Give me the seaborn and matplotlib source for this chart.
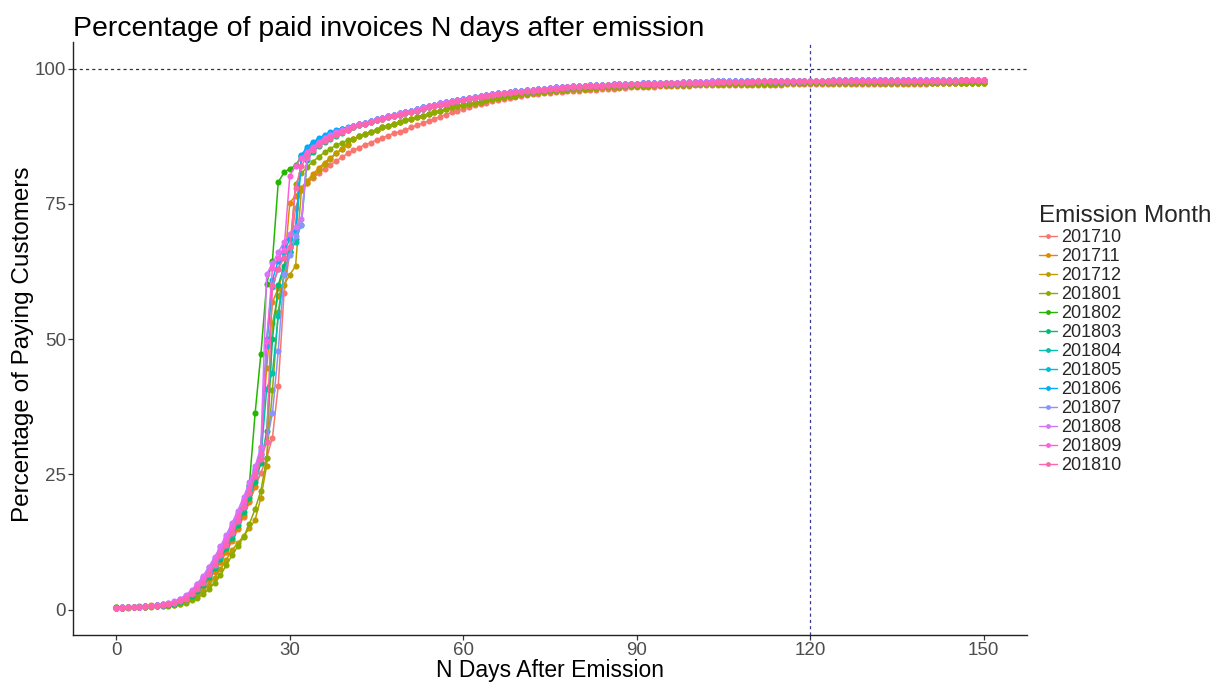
import matplotlib
matplotlib.use("Agg")
import matplotlib.pyplot as plt
import seaborn as sns
import pandas as pd
import numpy as np
from matplotlib.lines import Line2D

months = ["201710", "201711", "201712", "201801", "201802", "201803", "201804",
          "201805", "201806", "201807", "201808", "201809", "201810"]
colors = ["#F8766D", "#E18A00", "#BE9C00", "#8CAB00", "#24B700", "#00BE70", "#00C1AB",
          "#00BBDA", "#00ACFC", "#8B93FF", "#D575FE", "#F962DD", "#FF65AC"]
days = list(range(0, 151))

# Days 0-40 for each month
early_201710 = [0.3, 0.3, 0.4, 0.4, 0.5, 0.5, 0.6, 0.7, 0.8, 0.9, 1.0,
                1.3, 1.7, 2.3, 3.1, 4.2, 5.5, 7.0, 8.7, 10.6, 12.6,
                14.8, 17.2, 19.8, 22.6, 25.3, 28.0, 31.8, 41.4, 58.5, 66.0,
                74.2, 77.5, 78.9, 79.8, 80.7, 81.5, 82.2, 82.9, 83.6, 84.3]
early_201711 = [0.4, 0.4, 0.5, 0.5, 0.6, 0.7, 0.8, 0.9, 1.0, 1.1, 1.3,
                1.5, 1.9, 2.5, 3.3, 4.3, 5.6, 7.1, 8.8, 10.7, 12.8,
                15.0, 17.4, 20.0, 22.8, 30.0, 44.7, 56.8, 59.4, 62.8, 75.2,
                76.5, 78.0, 79.3, 80.5, 81.6, 82.6, 83.5, 84.3, 85.1, 85.8]
early_201712 = [0.3, 0.3, 0.4, 0.4, 0.5, 0.5, 0.6, 0.6, 0.7, 0.8, 0.9,
                1.1, 1.4, 1.9, 2.6, 3.5, 4.6, 5.9, 7.5, 9.2, 11.0,
                12.3, 13.6, 15.0, 16.6, 20.7, 26.6, 53.0, 58.0, 60.0, 61.9,
                63.5, 77.5, 78.8, 80.0, 81.2, 82.3, 83.3, 84.3, 85.2, 86.1]
early_201801 = [0.3, 0.3, 0.3, 0.4, 0.4, 0.5, 0.5, 0.6, 0.6, 0.7, 0.8,
                1.0, 1.3, 1.7, 2.2, 2.9, 3.8, 5.0, 6.3, 8.2, 10.0,
                11.7, 13.4, 15.8, 18.6, 22.0, 28.0, 40.5, 55.0, 62.0, 66.0,
                78.6, 80.6, 81.8, 82.8, 83.7, 84.5, 85.2, 85.8, 86.3, 86.7]
early_201802 = [0.4, 0.4, 0.4, 0.5, 0.5, 0.6, 0.7, 0.8, 0.9, 1.1, 1.3,
                1.7, 2.3, 3.1, 4.2, 5.5, 7.1, 8.9, 10.5, 12.1, 13.8,
                16.6, 20.3, 23.1, 36.3, 47.3, 60.2, 64.5, 79.0, 80.8, 81.5,
                82.1, 83.8, 85.0, 86.0, 86.8, 87.4, 87.9, 88.3, 88.6, 88.9]
early_201803 = [0.3, 0.3, 0.4, 0.4, 0.5, 0.5, 0.6, 0.7, 0.8, 0.9, 1.1,
                1.4, 1.9, 2.6, 3.5, 4.6, 6.0, 7.6, 9.4, 11.3, 13.3,
                15.6, 18.0, 20.6, 23.6, 27.0, 33.0, 50.0, 60.0, 63.5, 66.8,
                68.5, 71.1, 83.0, 84.6, 85.6, 86.4, 87.0, 87.6, 88.1, 88.6]
early_201804 = [0.3, 0.3, 0.4, 0.4, 0.5, 0.6, 0.6, 0.7, 0.8, 1.0, 1.2,
                1.5, 2.0, 2.8, 3.8, 5.0, 6.4, 8.0, 9.8, 11.8, 13.9,
                16.2, 18.7, 21.4, 24.5, 28.0, 40.8, 43.8, 54.2, 62.0, 66.0,
                68.0, 83.5, 85.0, 86.0, 86.8, 87.5, 88.0, 88.5, 88.8, 89.0]
early_201805 = [0.3, 0.3, 0.4, 0.4, 0.5, 0.6, 0.7, 0.8, 0.9, 1.1, 1.3,
                1.7, 2.3, 3.1, 4.2, 5.5, 7.0, 8.7, 10.6, 12.6, 14.7,
                17.0, 19.5, 22.2, 25.3, 28.8, 48.8, 59.7, 63.0, 66.0, 68.5,
                70.0, 83.8, 85.2, 86.2, 87.0, 87.6, 88.1, 88.5, 88.9, 89.0]
early_201806 = [0.3, 0.3, 0.4, 0.4, 0.5, 0.6, 0.7, 0.8, 0.9, 1.1, 1.3,
                1.7, 2.4, 3.3, 4.4, 5.8, 7.4, 9.2, 11.1, 13.1, 15.2,
                17.5, 20.0, 22.8, 26.0, 29.5, 50.0, 61.0, 64.5, 67.1, 69.2,
                70.5, 84.0, 85.5, 86.4, 87.1, 87.7, 88.2, 88.6, 88.9, 89.1]
early_201807 = [0.3, 0.4, 0.4, 0.5, 0.5, 0.6, 0.7, 0.8, 1.0, 1.2, 1.4,
                1.9, 2.6, 3.5, 4.7, 6.1, 7.8, 9.6, 11.5, 13.5, 15.6,
                17.8, 20.2, 22.8, 25.6, 28.5, 31.0, 36.3, 47.8, 62.0, 65.5,
                69.0, 71.0, 84.0, 85.4, 86.4, 87.2, 87.8, 88.3, 88.7, 89.0]
early_201808 = [0.3, 0.4, 0.4, 0.5, 0.5, 0.6, 0.7, 0.8, 1.0, 1.2, 1.5,
                2.0, 2.7, 3.6, 4.8, 6.2, 7.9, 9.7, 11.7, 13.8, 16.0,
                18.3, 20.8, 23.5, 26.5, 30.0, 62.0, 64.0, 66.0, 68.0, 69.5,
                70.7, 72.1, 83.5, 85.2, 86.3, 87.1, 87.7, 88.2, 88.6, 89.0]
early_201809 = [0.3, 0.3, 0.4, 0.4, 0.5, 0.6, 0.7, 0.8, 0.9, 1.1, 1.3,
                1.7, 2.3, 3.2, 4.3, 5.6, 7.2, 9.0, 10.9, 12.9, 15.0,
                17.3, 19.8, 22.5, 25.5, 29.0, 49.6, 63.1, 65.0, 66.5, 80.2,
                82.0, 83.5, 84.6, 85.5, 86.3, 86.9, 87.4, 87.9, 88.3, 88.7]
early_201810 = [0.3, 0.3, 0.4, 0.4, 0.5, 0.5, 0.6, 0.7, 0.8, 1.0, 1.2,
                1.5, 2.0, 2.8, 3.8, 5.0, 6.5, 8.2, 10.0, 12.0, 14.1,
                16.4, 18.9, 21.6, 24.6, 27.8, 31.0, 60.0, 63.0, 65.0, 67.0,
                78.0, 82.0, 83.8, 85.0, 85.9, 86.6, 87.2, 87.7, 88.2, 88.6]

# Days 41-150: the curves overlap closely, read as four bands
tail_top = [89.3, 89.7, 90.0, 90.3, 90.6, 90.9, 91.2, 91.4, 91.7, 91.9,
            92.2, 92.5, 92.8, 93.0, 93.3, 93.6, 93.8, 94.0, 94.2, 94.4,
            94.6, 94.8, 95.0, 95.1, 95.3, 95.4, 95.5, 95.7, 95.8, 95.9,
            96.0, 96.1, 96.2, 96.3, 96.4, 96.5, 96.5, 96.6, 96.7, 96.8,
            96.8, 96.9, 96.9, 97.0, 97.0, 97.1, 97.1, 97.2, 97.2, 97.2,
            97.3, 97.3, 97.3, 97.4, 97.4, 97.4, 97.4, 97.5, 97.5, 97.5,
            97.5, 97.5, 97.6, 97.6, 97.6, 97.6, 97.6, 97.6, 97.6, 97.7,
            97.7, 97.7, 97.7, 97.7, 97.7, 97.7, 97.7, 97.7, 97.7, 97.7,
            97.7, 97.7, 97.7, 97.8, 97.8, 97.8, 97.8, 97.8, 97.8, 97.8,
            97.8, 97.8, 97.8, 97.8, 97.8, 97.9, 97.9, 97.9, 97.9, 97.9,
            97.9, 97.9, 97.9, 97.9, 97.9, 97.9, 97.9, 97.9, 97.9, 97.9]
tail_upper = [89.2, 89.5, 89.8, 90.1, 90.4, 90.7, 91.0, 91.2, 91.5, 91.7,
              92.0, 92.2, 92.5, 92.8, 93.0, 93.3, 93.5, 93.8, 94.0, 94.2,
              94.4, 94.6, 94.8, 94.9, 95.1, 95.2, 95.4, 95.5, 95.6, 95.7,
              95.8, 95.9, 96.0, 96.1, 96.2, 96.3, 96.4, 96.5, 96.5, 96.6,
              96.7, 96.7, 96.8, 96.8, 96.9, 96.9, 97.0, 97.0, 97.1, 97.1,
              97.1, 97.2, 97.2, 97.2, 97.3, 97.3, 97.3, 97.3, 97.4, 97.4,
              97.4, 97.4, 97.4, 97.5, 97.5, 97.5, 97.5, 97.5, 97.5, 97.5,
              97.6, 97.6, 97.6, 97.6, 97.6, 97.6, 97.6, 97.6, 97.6, 97.6,
              97.6, 97.6, 97.6, 97.6, 97.6, 97.7, 97.7, 97.7, 97.7, 97.7,
              97.7, 97.7, 97.7, 97.7, 97.7, 97.7, 97.7, 97.7, 97.7, 97.7,
              97.7, 97.7, 97.7, 97.7, 97.7, 97.8, 97.8, 97.8, 97.8, 97.8]
tail_mid = [87.0, 87.5, 87.9, 88.3, 88.7, 89.1, 89.4, 89.8, 90.1, 90.4,
            90.7, 91.0, 91.3, 91.6, 91.9, 92.2, 92.5, 92.8, 93.0, 93.3,
            93.5, 93.7, 93.9, 94.1, 94.3, 94.5, 94.7, 94.9, 95.0, 95.2,
            95.3, 95.4, 95.6, 95.7, 95.8, 95.9, 96.0, 96.1, 96.2, 96.2,
            96.3, 96.4, 96.4, 96.5, 96.5, 96.6, 96.6, 96.7, 96.7, 96.8,
            96.8, 96.8, 96.9, 96.9, 96.9, 97.0, 97.0, 97.0, 97.0, 97.1,
            97.1, 97.1, 97.1, 97.1, 97.1, 97.2, 97.2, 97.2, 97.2, 97.2,
            97.2, 97.2, 97.2, 97.2, 97.2, 97.3, 97.3, 97.3, 97.3, 97.3,
            97.3, 97.3, 97.3, 97.3, 97.3, 97.3, 97.3, 97.3, 97.3, 97.3,
            97.3, 97.3, 97.3, 97.3, 97.3, 97.4, 97.4, 97.4, 97.4, 97.4,
            97.4, 97.4, 97.4, 97.4, 97.4, 97.4, 97.4, 97.4, 97.4, 97.4]
tail_low = [84.9, 85.4, 85.9, 86.3, 86.8, 87.2, 87.6, 88.0, 88.3, 88.7,
            89.1, 89.5, 89.9, 90.3, 90.7, 91.1, 91.5, 91.9, 92.2, 92.6,
            92.9, 93.2, 93.5, 93.7, 94.0, 94.2, 94.4, 94.6, 94.8, 94.9,
            95.1, 95.2, 95.3, 95.4, 95.5, 95.6, 95.7, 95.8, 95.9, 95.9,
            96.0, 96.1, 96.1, 96.2, 96.3, 96.3, 96.4, 96.4, 96.5, 96.5,
            96.6, 96.6, 96.6, 96.7, 96.7, 96.7, 96.8, 96.8, 96.8, 96.9,
            96.9, 96.9, 96.9, 96.9, 96.9, 97.0, 97.0, 97.0, 97.0, 97.0,
            97.0, 97.0, 97.0, 97.0, 97.0, 97.1, 97.1, 97.1, 97.1, 97.1,
            97.1, 97.1, 97.1, 97.1, 97.1, 97.2, 97.2, 97.2, 97.2, 97.2,
            97.2, 97.2, 97.2, 97.2, 97.2, 97.2, 97.2, 97.2, 97.2, 97.2,
            97.3, 97.3, 97.3, 97.3, 97.3, 97.4, 97.4, 97.4, 97.4, 97.4]

series = {
    "201710": early_201710 + tail_low,
    "201711": early_201711 + tail_mid,
    "201712": early_201712 + tail_mid,
    "201801": early_201801 + tail_mid,
    "201802": early_201802 + tail_upper,
    "201803": early_201803 + tail_upper,
    "201804": early_201804 + tail_top,
    "201805": early_201805 + tail_top,
    "201806": early_201806 + tail_top,
    "201807": early_201807 + tail_top,
    "201808": early_201808 + tail_top,
    "201809": early_201809 + tail_upper,
    "201810": early_201810 + tail_upper,
}

rows = []
for m in months:
    vals = series[m]
    for d, v in zip(days, vals):
        rows.append({"day": d, "pct": v, "month": m})
df = pd.DataFrame(rows)

sns.set_style("white")
FONT = ["Liberation Sans", "DejaVu Sans"]
plt.rcParams["font.family"] = FONT

W, H = 1220, 682
fig = plt.figure(figsize=(W / 100, H / 100), dpi=100)
ax = fig.add_axes([73 / W, 1 - 635 / H, (1027 - 73) / W, (635 - 42) / H])

palette = dict(zip(months, colors))
sns.lineplot(data=df, x="day", y="pct", hue="month", hue_order=months,
             palette=palette, marker="o", markersize=4.4, markeredgewidth=0,
             linewidth=1.1, legend=False, ax=ax, estimator=None)

ax.axhline(100, color="#333333", linestyle=(0, (2.5, 2.5)), linewidth=0.9, zorder=0)
ax.axvline(120, color="#3A3A9A", linestyle=(0, (2.5, 2.5)), linewidth=0.9, zorder=0)

ax.set_xlim(-7.5, 157.5)
ax.set_ylim(-4.7, 104.9)
ax.set_xticks([0, 30, 60, 90, 120, 150])
ax.set_yticks([0, 25, 50, 75, 100])

for side in ["top", "right"]:
    ax.spines[side].set_visible(False)
for side in ["left", "bottom"]:
    ax.spines[side].set_color("#222222")
    ax.spines[side].set_linewidth(1.0)
ax.tick_params(axis="both", which="major", length=3.5, width=0.9, color="#333333",
               labelsize=13.5, labelcolor="#4D4D4D", pad=1.5, left=True, bottom=True)

ax.set_xlabel("")
ax.set_ylabel("")
fig.text(550 / W, 1 - 677 / H, "N Days After Emission", fontsize=16.5,
         color="black", ha="center", va="baseline")
fig.text(23 / W, 1 - 344 / H, "Percentage of Paying Customers", fontsize=17.5,
         color="black", ha="center", va="center", rotation=90)
fig.text(73 / W, 1 - 36 / H, "Percentage of paid invoices N days after emission",
         fontsize=20.5, color="black", ha="left", va="baseline")

handles = [Line2D([0], [0], color=c, marker="o", markersize=3.5, markeredgewidth=0,
                  linewidth=1.0) for c in colors]
leg = fig.legend(handles, months, title="Emission Month", loc="upper left",
                 bbox_to_anchor=(1039 / W, 1 - 205 / H), frameon=False, fontsize=13,
                 title_fontsize=17.5, handlelength=1.0, handletextpad=0.25,
                 labelspacing=0.11, borderaxespad=0, borderpad=0)
leg._legend_box.align = "left"

fig.savefig("out.png", dpi=100, facecolor="white")
